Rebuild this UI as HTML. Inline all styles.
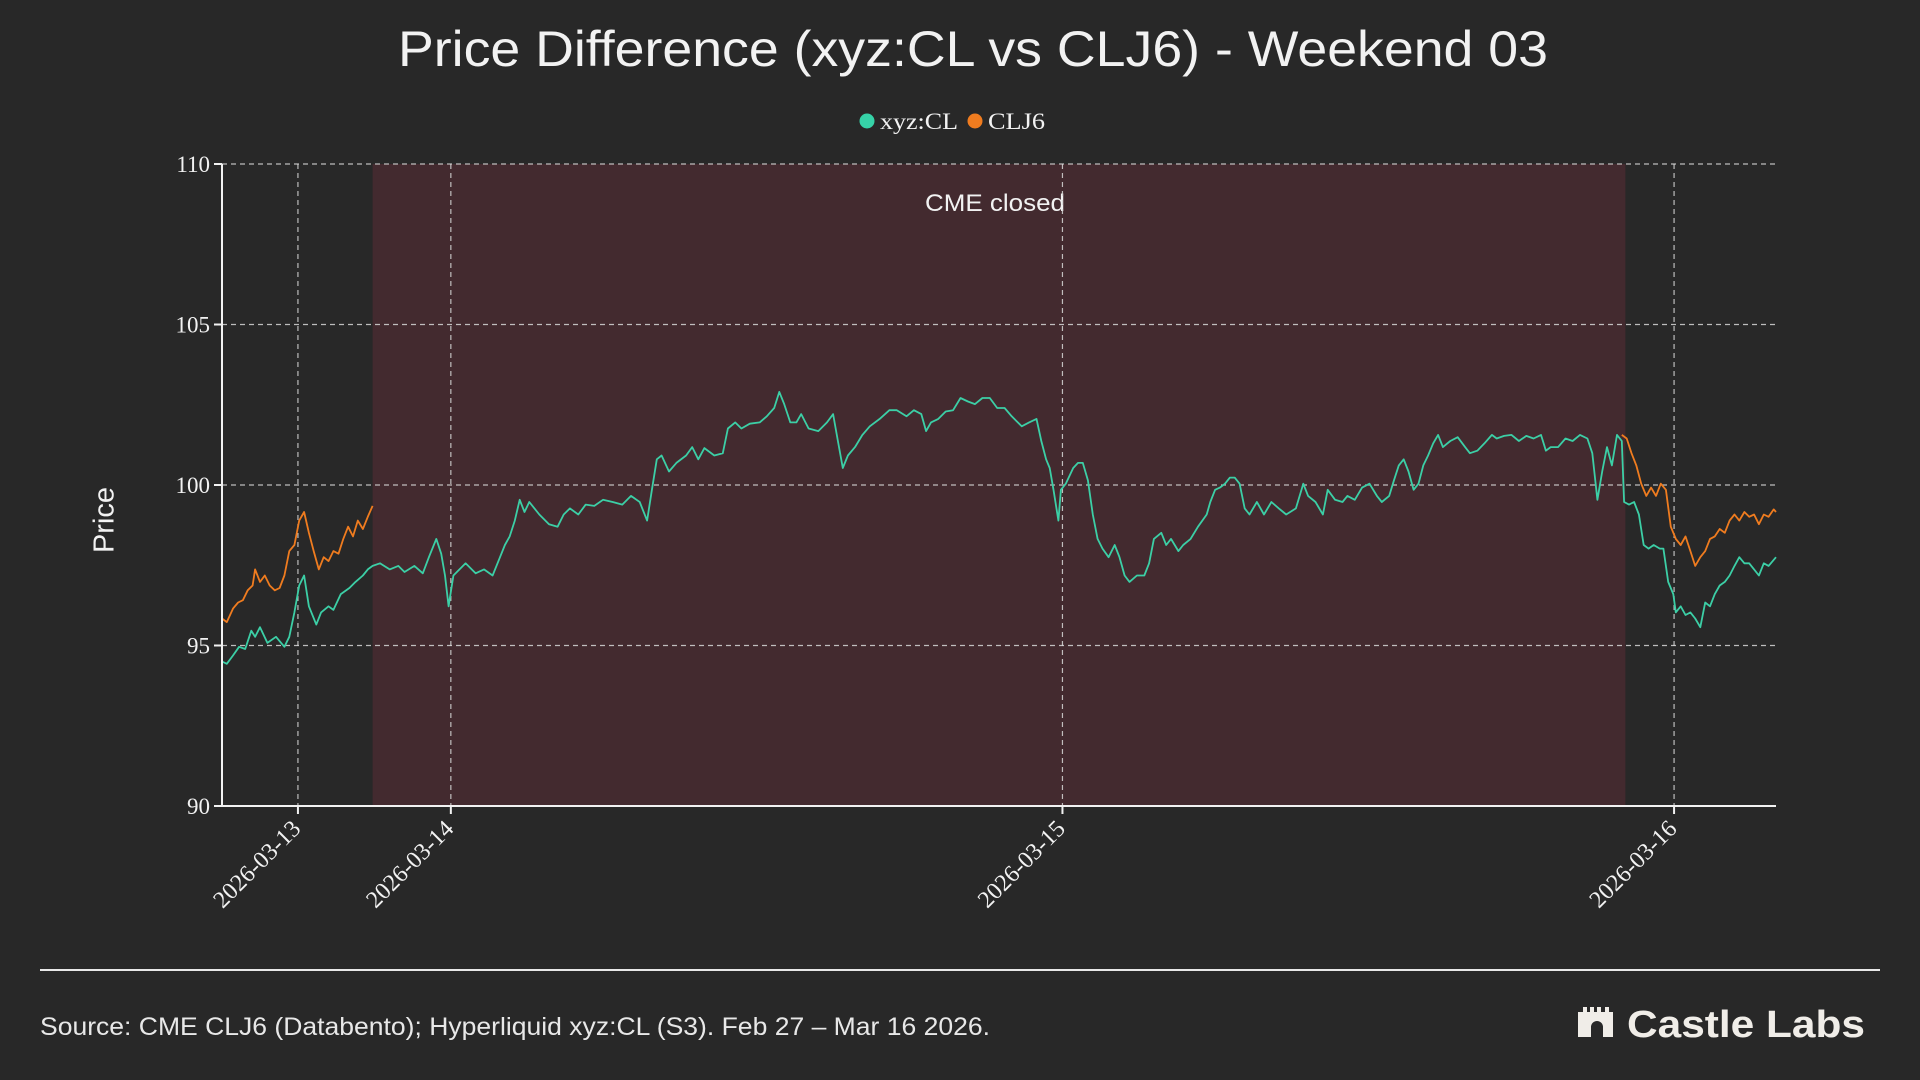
<!DOCTYPE html>
<html><head><meta charset="utf-8"><style>
html,body{margin:0;padding:0;background:#282828;}
svg{display:block;}
</style></head><body>
<svg id="chart" width="1920" height="1080" viewBox="0 0 1920 1080" xmlns="http://www.w3.org/2000/svg">
<rect x="0" y="0" width="1920" height="1080" fill="#282828"/>
<text x="973" y="66" text-anchor="middle" fill="#f2f2f2" font-family="Liberation Sans, sans-serif" font-size="50" textLength="1150" lengthAdjust="spacingAndGlyphs">Price Difference (xyz:CL vs CLJ6) - Weekend 03</text>
<g>
<g><circle cx="867" cy="121" r="7.5" fill="#36d3a8"/><text x="880" y="129" fill="#f2f2f2" font-family="Liberation Serif, serif" font-size="23" textLength="78" lengthAdjust="spacingAndGlyphs">xyz:CL</text></g>
<g><circle cx="975" cy="121" r="7.5" fill="#f07c1f"/><text x="988" y="129" fill="#f2f2f2" font-family="Liberation Serif, serif" font-size="23" textLength="57" lengthAdjust="spacingAndGlyphs">CLJ6</text></g>
</g>
<g id="plot"></g>
<text x="106" y="520" transform="rotate(-90 106 520)" text-anchor="middle" dominant-baseline="middle" fill="#f2f2f2" font-family="Liberation Sans, sans-serif" font-size="29">Price</text>
<line x1="40" y1="970" x2="1880" y2="970" stroke="#e8e8e8" stroke-width="2"/>
<text x="40" y="1035" fill="#e8e8e8" font-family="Liberation Sans, sans-serif" font-size="25" textLength="950" lengthAdjust="spacingAndGlyphs">Source: CME CLJ6 (Databento); Hyperliquid xyz:CL (S3). Feb 27 – Mar 16 2026.</text>
<g>
<path d="M1578 1037 V1012 h5 v-5 h4 v5 h3 v-5 h4 v5 h3 v-5 h4 v5 h4 v-5 h4 v5 h4 v25 h-10 v-10 a5 5 0 0 0 -12 0 v10 z" fill="#f0ede8"/>
<text x="1627" y="1037" fill="#f0ede8" font-family="Liberation Sans, sans-serif" font-weight="bold" font-size="38" textLength="238" lengthAdjust="spacingAndGlyphs">Castle Labs</text>
</g>
</svg>
<script>
const yTicks = [90, 95, 100, 105, 110];
const xTickHours = [0, 6, 30, 54];
const xTickLabels = ["2026-03-13", "2026-03-14", "2026-03-15", "2026-03-16"];
const closedStart = 2.93;
const closedEnd = 52.09;
const closedLabel = "CME closed";
const xyzHours = [-2.98,-2.79,-2.55,-2.31,-2.07,-1.83,-1.68,-1.49,-1.20,-0.86,-0.53,-0.34,-0.14,0.05,0.24,0.43,0.72,0.91,1.20,1.39,1.68,2.02,2.26,2.55,2.74,2.93,3.22,3.60,3.94,4.18,4.57,4.90,5.14,5.43,5.62,5.77,5.91,6.10,6.34,6.58,6.97,7.30,7.64,7.93,8.12,8.31,8.51,8.70,8.89,9.08,9.47,9.85,10.19,10.43,10.67,11.00,11.29,11.63,11.97,12.35,12.73,13.07,13.41,13.70,13.89,14.08,14.27,14.56,14.85,15.23,15.47,15.71,15.95,16.34,16.67,16.87,17.16,17.40,17.73,18.12,18.40,18.69,18.89,19.08,19.32,19.56,19.75,20.04,20.42,20.76,21.00,21.19,21.38,21.58,21.86,22.15,22.44,22.83,23.21,23.50,23.88,24.17,24.46,24.65,24.84,25.13,25.42,25.71,26.00,26.29,26.57,26.86,27.15,27.44,27.73,28.01,28.40,28.69,28.98,29.17,29.36,29.50,29.65,29.84,29.94,30.13,30.42,30.61,30.80,31.00,31.19,31.38,31.57,31.81,32.05,32.24,32.44,32.63,32.92,33.21,33.40,33.59,33.88,34.07,34.26,34.55,34.74,35.03,35.32,35.66,35.80,35.99,36.18,36.38,36.57,36.76,36.95,37.15,37.34,37.63,37.91,38.20,38.49,38.78,39.16,39.45,39.64,39.93,40.22,40.41,40.70,40.99,41.18,41.47,41.76,42.05,42.34,42.53,42.82,43.01,43.20,43.39,43.58,43.78,43.97,44.16,44.35,44.55,44.74,44.93,45.22,45.51,45.80,45.99,46.28,46.56,46.85,47.04,47.33,47.62,47.91,48.20,48.49,48.78,48.97,49.16,49.45,49.74,50.02,50.31,50.60,50.79,50.99,51.18,51.37,51.56,51.76,51.95,52.04,52.23,52.43,52.62,52.81,53.00,53.20,53.44,53.58,53.77,53.97,54.07,54.26,54.45,54.64,54.83,55.03,55.22,55.41,55.60,55.79,55.99,56.18,56.37,56.56,56.76,56.95,57.14,57.33,57.52,57.71,58.00];
const xyzValues = [94.50,94.43,94.69,94.96,94.89,95.46,95.27,95.57,95.08,95.27,94.96,95.27,96.03,96.87,97.18,96.22,95.65,96.03,96.22,96.11,96.60,96.79,96.98,97.18,97.37,97.48,97.56,97.37,97.48,97.29,97.48,97.25,97.75,98.32,97.86,97.18,96.22,97.18,97.37,97.56,97.25,97.37,97.18,97.75,98.13,98.40,98.89,99.54,99.16,99.47,99.08,98.78,98.70,99.08,99.27,99.08,99.39,99.35,99.54,99.47,99.39,99.66,99.47,98.89,99.85,100.80,100.92,100.42,100.69,100.92,101.18,100.80,101.15,100.92,100.99,101.76,101.95,101.76,101.91,101.95,102.14,102.40,102.90,102.52,101.95,101.95,102.21,101.76,101.68,101.95,102.21,101.37,100.53,100.92,101.18,101.56,101.83,102.06,102.33,102.33,102.14,102.33,102.21,101.68,101.95,102.06,102.29,102.33,102.71,102.60,102.52,102.71,102.71,102.40,102.40,102.14,101.83,101.95,102.06,101.37,100.80,100.53,99.85,98.89,99.85,100.04,100.53,100.69,100.69,100.15,99.08,98.32,98.02,97.75,98.13,97.75,97.18,96.98,97.18,97.18,97.56,98.32,98.51,98.13,98.32,97.94,98.13,98.32,98.70,99.08,99.47,99.85,99.92,100.04,100.23,100.23,100.04,99.27,99.08,99.47,99.08,99.47,99.27,99.08,99.27,100.04,99.66,99.47,99.08,99.85,99.54,99.47,99.66,99.54,99.92,100.04,99.66,99.47,99.66,100.15,100.61,100.80,100.42,99.85,100.04,100.61,100.92,101.30,101.56,101.18,101.37,101.49,101.18,100.99,101.07,101.30,101.56,101.45,101.53,101.56,101.37,101.53,101.45,101.56,101.07,101.18,101.18,101.45,101.37,101.56,101.45,100.99,99.54,100.42,101.18,100.61,101.56,101.37,99.47,99.39,99.47,99.08,98.13,98.02,98.13,98.02,98.02,96.98,96.60,96.03,96.22,95.95,96.03,95.84,95.57,96.34,96.22,96.60,96.87,96.98,97.18,97.48,97.75,97.56,97.56,97.37,97.18,97.56,97.48,97.75];
const cljHoursA = [-2.98,-2.79,-2.55,-2.35,-2.16,-1.97,-1.78,-1.68,-1.49,-1.30,-1.11,-0.91,-0.72,-0.53,-0.34,-0.14,0.05,0.24,0.43,0.62,0.82,1.01,1.20,1.39,1.59,1.78,1.97,2.16,2.35,2.55,2.74,2.93];
const cljValuesA = [95.84,95.73,96.15,96.34,96.41,96.72,96.87,97.37,96.98,97.18,96.87,96.72,96.79,97.18,97.94,98.13,98.89,99.16,98.51,97.94,97.37,97.75,97.63,97.94,97.86,98.32,98.70,98.40,98.89,98.63,99.01,99.35];
const cljHoursB = [51.95,52.14,52.33,52.52,52.71,52.91,53.10,53.29,53.48,53.68,53.87,54.07,54.26,54.45,54.64,54.83,55.03,55.22,55.41,55.60,55.79,55.99,56.18,56.37,56.56,56.76,56.95,57.14,57.33,57.52,57.71,57.91,58.00];
const cljValuesB = [101.56,101.45,100.99,100.61,100.04,99.66,99.92,99.66,100.04,99.85,98.70,98.32,98.13,98.40,97.94,97.48,97.75,97.94,98.32,98.40,98.63,98.51,98.89,99.08,98.89,99.16,99.01,99.08,98.78,99.08,99.01,99.24,99.16];

const L = 222, R = 1776, T = 164, B = 806;
const xMin = -2.98, xMax = 58.0, yMin = 90, yMax = 110;
function xs(h){ return L + (h - xMin) / (xMax - xMin) * (R - L); }
function ys(v){ return B - (v - yMin) / (yMax - yMin) * (B - T); }
const NS = "http://www.w3.org/2000/svg";
const plot = document.getElementById('plot');
function mk(tag, attrs, parent){ const e = document.createElementNS(NS, tag); for (const k in attrs) e.setAttribute(k, attrs[k]); (parent||plot).appendChild(e); return e; }

const shade = mk('rect', {x: xs(closedStart), y: T, width: xs(closedEnd) - xs(closedStart), height: B - T, fill: '#432a2f'});


const cl = mk('text', {x: (xs(closedStart)+xs(closedEnd))/2 - 4, y: T + 47, 'text-anchor': 'middle', fill: '#f2f2f2', 'font-family': 'Liberation Sans, sans-serif', 'font-size': 24, textLength: 140, lengthAdjust: 'spacingAndGlyphs'});
cl.textContent = closedLabel;



yTicks.forEach(v => {
  const g = mk('line', {x1: L, x2: R, y1: ys(v), y2: ys(v), stroke: '#d8d8d8', 'stroke-width': 1.2, 'stroke-dasharray': '5 4', opacity: v === yMin ? 0 : 0.85});
  
  
  const tk = mk('line', {x1: L - 8, x2: L, y1: ys(v), y2: ys(v), stroke: '#f2f2f2', 'stroke-width': 2});
  
  
  const t = mk('text', {x: L - 12, y: ys(v) + 8, 'text-anchor': 'end', fill: '#f2f2f2', 'font-family': 'Liberation Serif, serif', 'font-size': 23});
  t.textContent = v;
  
  
});
xTickHours.forEach((h, i) => {
  const g = mk('line', {x1: xs(h), x2: xs(h), y1: T, y2: B, stroke: '#d8d8d8', 'stroke-width': 1.2, 'stroke-dasharray': '5 4', opacity: 0.85});
  
  
  const tk = mk('line', {x1: xs(h), x2: xs(h), y1: B, y2: B + 8, stroke: '#f2f2f2', 'stroke-width': 2});
  
  
  const x = xs(h) + 4, y = B + 24;
  const t = mk('text', {x: x, y: y, 'text-anchor': 'end', fill: '#f2f2f2', 'font-family': 'Liberation Serif, serif', 'font-size': 24, transform: 'rotate(-45 ' + x + ' ' + y + ')'});
  t.textContent = xTickLabels[i];
  
  
});
function linePath(hs, vs){ return hs.map((h, i) => (i ? 'L' : 'M') + xs(h).toFixed(1) + ' ' + ys(vs[i]).toFixed(1)).join(' '); }
const lx = mk('path', {d: linePath(xyzHours, xyzValues), fill: 'none', stroke: '#3ccfa6', 'stroke-width': 1.8, 'stroke-linejoin': 'round'});


const la = mk('path', {d: linePath(cljHoursA, cljValuesA), fill: 'none', stroke: '#f07c1f', 'stroke-width': 1.8, 'stroke-linejoin': 'round'});


const lb = mk('path', {d: linePath(cljHoursB, cljValuesB), fill: 'none', stroke: '#f07c1f', 'stroke-width': 1.8, 'stroke-linejoin': 'round'});


const ya = mk('line', {x1: L, x2: L, y1: T, y2: B, stroke: '#f2f2f2', 'stroke-width': 2});


const xa = mk('line', {x1: L, x2: R, y1: B, y2: B, stroke: '#f2f2f2', 'stroke-width': 2});


</script>
</body></html>
